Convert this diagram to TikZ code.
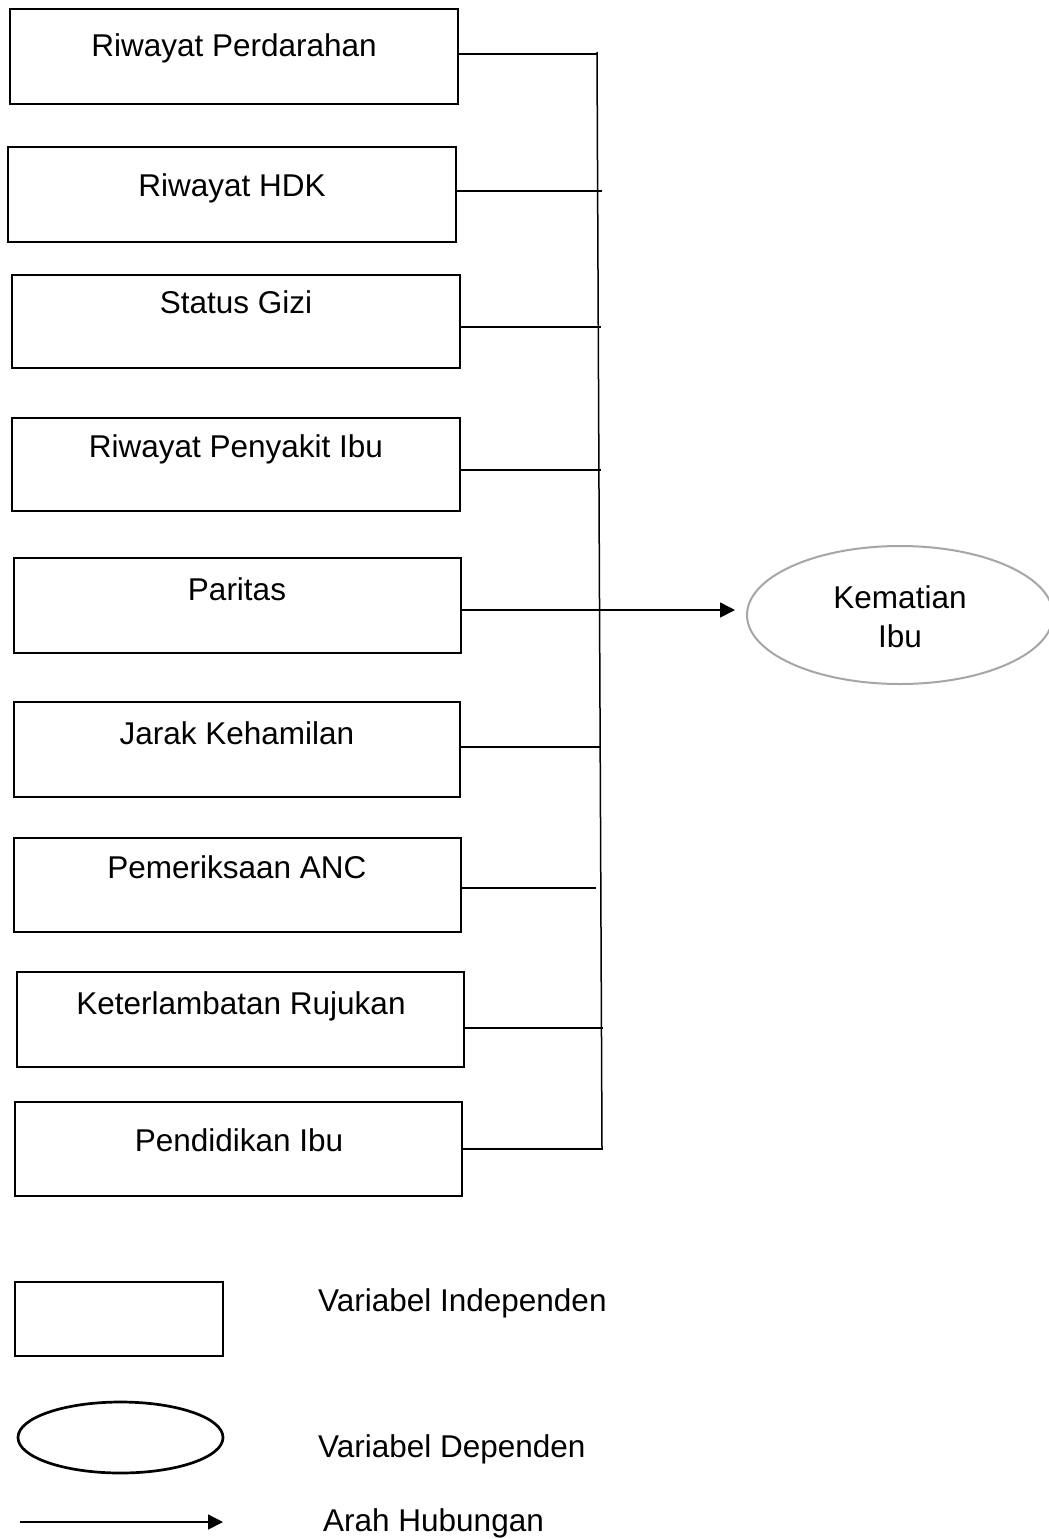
\documentclass[tikz,border=0pt]{standalone}
\usepackage{fontspec}
\setmainfont{Liberation Sans}
\usetikzlibrary{arrows.meta,shapes.geometric}
\begin{document}
\begin{tikzpicture}[x=1pt,y=-1pt,
  varbox/.style={draw, line width=2.8pt, inner sep=0pt, outer sep=0pt, anchor=north west},
  lbl/.style={font=\fontsize{31.5}{38}\selectfont, anchor=base, inner sep=0pt},
  leglbl/.style={font=\fontsize{31.5}{38}\selectfont, anchor=base west, inner sep=0pt},
  conn/.style={line width=1.5pt},
  tip/.style={-{Triangle[length=15pt,width=15pt]}}
]
\useasboundingbox (0,0) rectangle (1049,1539);
\fill[white] (0,0) rectangle (1049,1539);

% independent variable boxes
\node[varbox, minimum width=448, minimum height=95] (b1) at (10,9) {};
\node[varbox, minimum width=448, minimum height=95] (b2) at (8,147) {};
\node[varbox, minimum width=448, minimum height=93] (b3) at (12,275) {};
\node[varbox, minimum width=448, minimum height=93] (b4) at (12,418) {};
\node[varbox, minimum width=447, minimum height=95] (b5) at (14,558) {};
\node[varbox, minimum width=446, minimum height=95] (b6) at (14,702) {};
\node[varbox, minimum width=447, minimum height=94] (b7) at (14,838) {};
\node[varbox, minimum width=447, minimum height=95] (b8) at (17,972) {};
\node[varbox, minimum width=447, minimum height=94] (b9) at (15,1102) {};

\node[lbl] (t1) at (234,56) {Riwayat Perdarahan};
\node[lbl] (t2) at (232,196) {Riwayat HDK};
\node[lbl] (t3) at (236,313) {Status Gizi};
\node[lbl] (t4) at (236,457) {Riwayat Penyakit Ibu};
\node[lbl] (t5) at (237,600) {Paritas};
\node[lbl] (t6) at (237,744) {Jarak Kehamilan};
\node[lbl] (t7) at (237,878) {Pemeriksaan ANC};
\node[lbl] (t8) at (241,1014) {Keterlambatan Rujukan};
\node[lbl] (t9) at (239,1151) {Pendidikan Ibu};

% bus line
\coordinate (bustop) at (597,52);
\coordinate (busbot) at (602,1148);
\draw[conn] (bustop) -- (busbot);

\coordinate (j1) at (597,54);
\coordinate (j2) at (602,191);
\coordinate (j3) at (601,327);
\coordinate (j4) at (601,470);
\coordinate (j6) at (601,747);
\coordinate (j7) at (596,888);
\coordinate (j8) at (603,1028);
\coordinate (j9) at (603,1149);
\coordinate (arrtip) at (735,610);

\draw[conn] (b1.east |- j1) -- (j1);
\draw[conn] (b2.east |- j2) -- (j2);
\draw[conn] (b3.east |- j3) -- (j3);
\draw[conn] (b4.east |- j4) -- (j4);
\draw[conn] (b6.east |- j6) -- (j6);
\draw[conn] (b7.east |- j7) -- (j7);
\draw[conn] (b8.east |- j8) -- (j8);
\draw[conn] (b9.east |- j9) -- (j9);
\draw[conn, tip] (b5.east |- arrtip) -- (arrtip);

% dependent variable
\node[ellipse, draw={rgb,255:red,166;green,166;blue,166}, line width=2pt, minimum width=306, minimum height=138, inner sep=0pt] (dep) at (900,615) {};
\node[lbl] (tk) at (900,608) {Kematian};
\node[lbl] (ti) at (900,647) {Ibu};

% legend
\node[varbox, minimum width=208, minimum height=74] (lbox) at (15,1282) {};
\node[ellipse, draw, line width=2.7pt, minimum width=205, minimum height=71, inner sep=0pt] (lell) at (120.5,1437.5) {};
\coordinate (la0) at (20,1522);
\coordinate (la1) at (223,1522);
\draw[conn, tip] (la0) -- (la1);
\node[leglbl] (lt1) at (318,1311) {Variabel Independen};
\node[leglbl] (lt2) at (318,1457) {Variabel Dependen};
\node[leglbl] (lt3) at (323,1531) {Arah Hubungan};
\end{tikzpicture}
\end{document}
